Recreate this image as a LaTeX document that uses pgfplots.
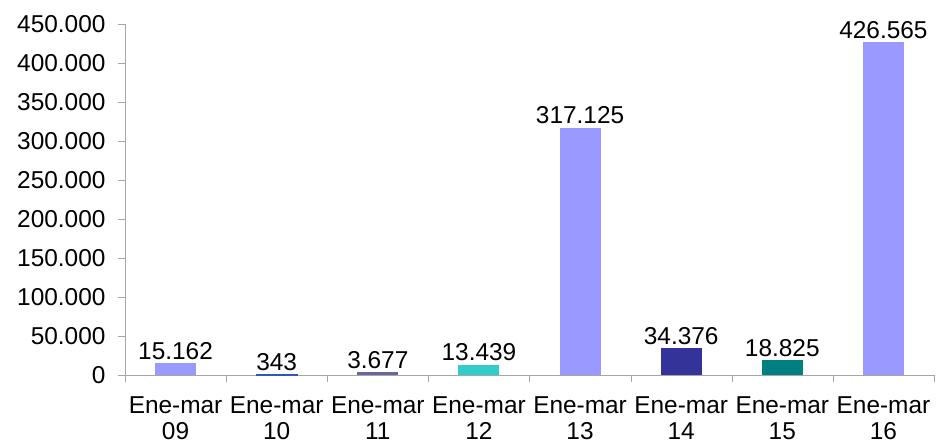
\documentclass[border=0pt]{standalone}
\usepackage{pgfplots}
\pgfplotsset{compat=1.18}
\usepackage{fontspec}
\setmainfont{Liberation Sans}

\definecolor{lav}{HTML}{9999FF}
\definecolor{blu}{HTML}{3355BB}
\definecolor{dpurp}{HTML}{666699}
\definecolor{turq}{HTML}{33CCCC}
\definecolor{navy}{HTML}{333399}
\definecolor{teal2}{HTML}{008080}
\definecolor{axgray}{HTML}{A6A6A6}

\begin{document}
\begin{tikzpicture}
\begin{axis}[
    scale only axis,
    width=809bp, height=351bp,
    xmin=0.5, xmax=8.5,
    ymin=0, ymax=450000,
    axis lines=left,
    axis line style={draw=axgray, -},
    clip=false,
    ybar, bar width=41bp,
    ytick={0,50000,100000,150000,200000,250000,300000,350000,400000,450000},
    yticklabels={0,50.000,100.000,150.000,200.000,250.000,300.000,350.000,400.000,450.000},
    scaled y ticks=false,
    tick align=outside,
    tick style={draw=axgray},
    major tick length=7bp,
    minor tick length=7bp,
    xtick={1,...,8},
    major x tick style={draw=none},
    minor xtick={0.5,1.5,...,8.5},
    xticklabels={{Ene-mar\\09},{Ene-mar\\10},{Ene-mar\\11},{Ene-mar\\12},
                 {Ene-mar\\13},{Ene-mar\\14},{Ene-mar\\15},{Ene-mar\\16}},
    tick label style={font=\fontsize{24.5}{26}\selectfont},
    xticklabel style={align=center, anchor=north, yshift=-11bp},
    yticklabel style={xshift=-9bp},
    point meta=explicit symbolic,
    nodes near coords,
    every node near coord/.append style={font=\fontsize{24.5}{26}\selectfont, black},
]
\addplot[fill=lav, draw=none, bar shift=0pt] coordinates {(1,15162) [15.162]};
\addplot[fill=blu, draw=blu, line width=0.8bp, bar shift=0pt] coordinates {(2,343) [343]};
\addplot[fill=dpurp, draw=none, bar shift=0pt] coordinates {(3,3677) [3.677]};
\addplot[fill=turq, draw=none, bar shift=0pt] coordinates {(4,13439) [13.439]};
\addplot[fill=lav, draw=none, bar shift=0pt] coordinates {(5,317125) [317.125]};
\addplot[fill=navy, draw=none, bar shift=0pt] coordinates {(6,34376) [34.376]};
\addplot[fill=teal2, draw=none, bar shift=0pt] coordinates {(7,18825) [18.825]};
\addplot[fill=lav, draw=none, bar shift=0pt] coordinates {(8,426565) [426.565]};
\end{axis}
\pgfresetboundingbox
\path[use as bounding box] ([shift={(-125bp,-68bp)}]current axis.south west)
  rectangle ([shift={(2bp,24bp)}]current axis.north east);
\end{tikzpicture}
\end{document}
